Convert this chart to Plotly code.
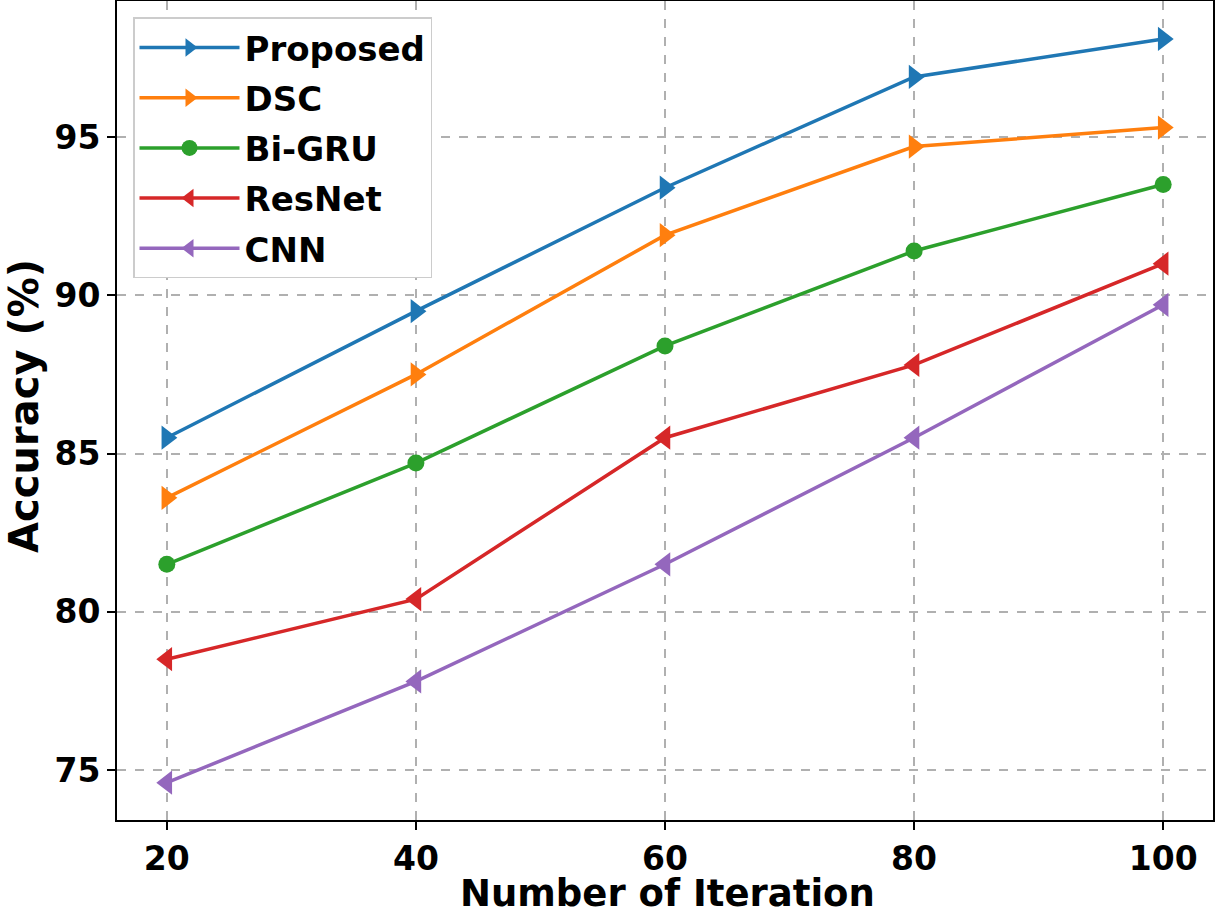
import plotly.graph_objects as go

iterations = [20, 40, 60, 80, 100]
proposed = [85.5, 89.5, 93.4, 96.9, 98.1]
dsc = [83.6, 87.5, 91.9, 94.7, 95.3]
bigru = [81.5, 84.7, 88.4, 91.4, 93.5]
resnet = [78.5, 80.4, 85.5, 87.8, 91.0]
cnn = [74.6, 77.8, 81.5, 85.5, 89.7]

series = [
    ("Proposed", proposed, "#1f77b4", "triangle-right"),
    ("DSC", dsc, "#ff7f0e", "triangle-right"),
    ("Bi-GRU", bigru, "#2ca02c", "circle"),
    ("ResNet", resnet, "#d62728", "triangle-left"),
    ("CNN", cnn, "#9467bd", "triangle-left"),
]

fig = go.Figure()
for name, vals, color, sym in series:
    fig.add_trace(go.Scatter(
        x=iterations, y=vals, name=name, mode="lines+markers", legendgroup=name,
        line=dict(color=color, width=3.5),
        marker=dict(symbol=sym, size=21 if sym != "circle" else 17, color=color),
    ))

font = "DejaVu Sans, Arial, sans-serif"
axis_common = dict(
    showline=True, linecolor="black", linewidth=2, mirror=True,
    ticks="outside", ticklen=8, tickwidth=2, tickcolor="black",
    showgrid=True, gridcolor="#b0b0b0", griddash="dash", gridwidth=1.5,
    zeroline=False, automargin=False,
    tickfont=dict(size=33, weight="bold"),
)
fig.update_layout(
    width=1218, height=911,
    margin=dict(l=117, r=5, t=1, b=91),
    paper_bgcolor="white", plot_bgcolor="white",
    font=dict(family=font, color="black"),
    legend=dict(
        x=0.0146, y=0.98, xanchor="left", yanchor="top",
        bgcolor="white", bordercolor="#cccccc", borderwidth=1.5,
        font=dict(family=font, size=34, color="black", weight="bold"),
        itemwidth=100, tracegroupgap=3,
    ),
    xaxis=dict(range=[16, 104], tickvals=iterations, **axis_common),
    yaxis=dict(range=[73.42, 99.3], tickvals=[75, 80, 85, 90, 95], **axis_common),
    annotations=[
        dict(text="<b>Number of Iteration</b>", xref="paper", yref="paper",
             x=0.502, y=-0.0903, xanchor="center", yanchor="middle",
             showarrow=False, font=dict(family=font, size=37, color="black")),
        dict(text="<b>Accuracy (%)</b>", xref="paper", yref="paper",
             x=-0.0855, y=0.506, xanchor="center", yanchor="middle", textangle=-90,
             showarrow=False, font=dict(family=font, size=40, color="black")),
    ],
)

fig.write_html("out.html", config={"displayModeBar": False},
               post_script="document.body.style.margin='0px';")
